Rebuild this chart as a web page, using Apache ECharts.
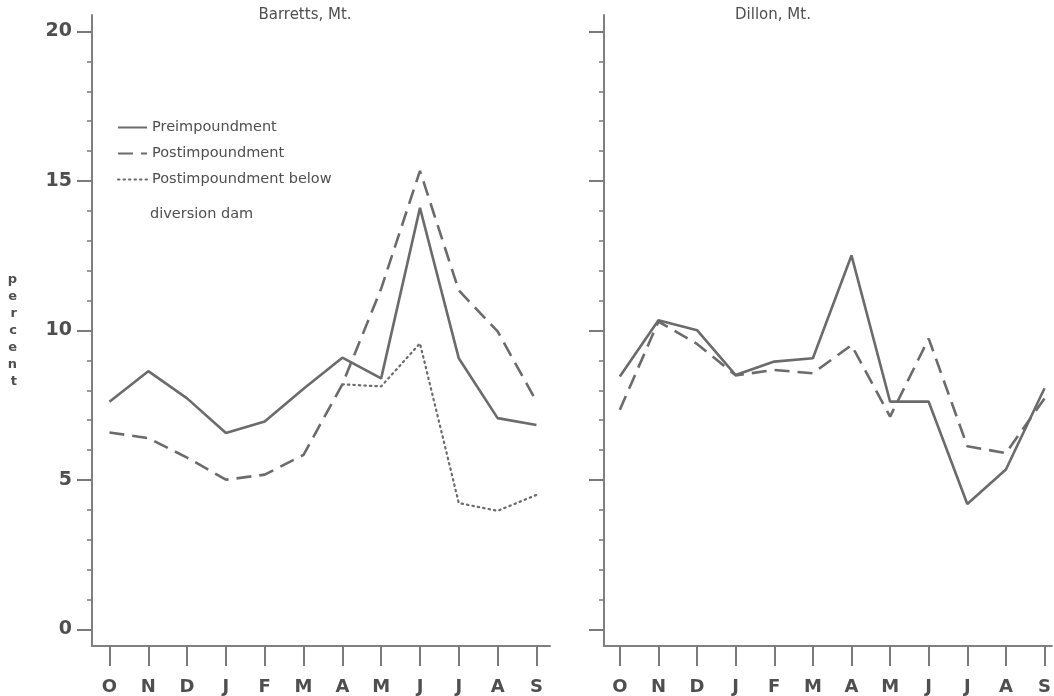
<!DOCTYPE html>
<html>
<head>
<meta charset="utf-8">
<title>Monthly flow distribution, Barretts and Dillon</title>
<script src="https://cdn.jsdelivr.net/npm/echarts@6/dist/echarts.min.js"></script>
<style>
  html, body { margin: 0; padding: 0; background: #ffffff; }
  #chart { width: 1054px; height: 696px; }
</style>
</head>
<body>
<div id="chart"></div>
<script>
// Water-year months, October through September
const months = ['O', 'N', 'D', 'J', 'F', 'M', 'A', 'M', 'J', 'J', 'A', 'S'];
const monthIdx = [0, 1, 2, 3, 4, 5, 6, 7, 8, 9, 10, 11];

// Percent of annual flow per month — Barretts, Mt.
const barrettsPre = [7.62, 8.64, 7.73, 6.57, 6.96, 8.05, 9.09, 8.4, 14.1, 9.07, 7.07, 6.84];
const barrettsPost = [6.59, 6.4, 5.75, 5.01, 5.18, 5.84, 8.2, 11.4, 15.34, 11.34, 9.97, 7.63];
const barrettsBelowDam = [null, null, null, null, null, null, 8.2, 8.13, 9.57, 4.23, 3.97, 4.5];

// Percent of annual flow per month — Dillon, Mt.
const dillonPre = [8.46, 10.34, 10.01, 8.51, 8.96, 9.07, 12.51, 7.62, 7.62, 4.2, 5.35, 8.07];
const dillonPost = [7.35, 10.3, 9.55, 8.5, 8.68, 8.57, 9.51, 7.12, 9.73, 6.13, 5.9, 7.73];

// Y-axis tick values
const majorTicks = [0, 5, 10, 15, 20];
const minorTicks = [1, 2, 3, 4, 6, 7, 8, 9, 11, 12, 13, 14, 16, 17, 18, 19];

const seriesNames = ['Preimpoundment', 'Postimpoundment', 'Postimpoundment below'];

const ink = '#4f4f4f';
const lineInk = '#6b6b6b';
const fontFamily = '"DejaVu Sans", "Liberation Sans", sans-serif';

const toPairs = arr => arr.map((v, i) => [i, v === null ? '-' : v]);

function xAxisFor(gridIndex, min, max) {
  return {
    gridIndex, type: 'value', min, max,
    axisLine: { show: true, onZero: false, lineStyle: { color: '#808080', width: 2 } },
    axisTick: { show: true, customValues: monthIdx, length: 20, lineStyle: { color: '#7a7a7a', width: 2 } },
    axisLabel: {
      customValues: monthIdx, formatter: v => months[v], margin: 32,
      fontSize: 18, fontWeight: 'bold', color: ink, fontFamily
    },
    splitLine: { show: false }
  };
}

function mainYAxis(gridIndex, withLabels) {
  return {
    gridIndex, type: 'value', min: -0.55, max: 20.55, position: 'left',
    axisLine: { show: true, onZero: false, lineStyle: { color: '#808080', width: 2 } },
    axisTick: { show: true, customValues: majorTicks, length: 15, lineStyle: { color: '#7a7a7a', width: 2 } },
    axisLabel: {
      show: withLabels, customValues: majorTicks, margin: 20,
      fontSize: 19, fontWeight: 'bold', color: ink, fontFamily
    },
    splitLine: { show: false },
    name: withLabels ? 'p\ne\nr\nc\ne\nn\nt' : '',
    nameLocation: 'middle', nameRotate: 0, nameGap: 75,
    nameTextStyle: { fontSize: 13, fontWeight: 'bold', lineHeight: 17, color: ink, fontFamily }
  };
}

function minorYAxis(gridIndex) {
  return {
    gridIndex, type: 'value', min: -0.55, max: 20.55, position: 'left',
    axisLine: { show: false, onZero: false },
    axisTick: { show: true, customValues: minorTicks, length: 5, lineStyle: { color: '#7a7a7a', width: 1.5 } },
    axisLabel: { show: false },
    splitLine: { show: false }
  };
}

function lineSeries(name, data, xi, yi, type) {
  return {
    name, type: 'line', xAxisIndex: xi, yAxisIndex: yi,
    data: toPairs(data), symbol: 'none', connectNulls: false, z: 3,
    lineStyle: {
      color: lineInk, width: type === 'dotted' ? 2.2 : 2.6,
      type: type === 'solid' ? 'solid' : (type === 'dashed' ? [15, 8] : [1.5, 4]),
      cap: type === 'dotted' ? 'round' : 'butt'
    },
    itemStyle: { color: lineInk }
  };
}

const chart = echarts.init(document.getElementById('chart'), null, { renderer: 'canvas' });

chart.setOption({
  backgroundColor: '#ffffff',
  animation: false,
  title: [
    { text: 'Barretts, Mt.', left: 300, top: 3, textAlign: 'center',
      textStyle: { fontSize: 15, fontWeight: 'normal', color: ink, fontFamily } },
    { text: 'Dillon, Mt.', left: 768, top: 3, textAlign: 'center',
      textStyle: { fontSize: 15, fontWeight: 'normal', color: ink, fontFamily } }
  ],
  grid: [
    { left: 92, top: 15, width: 458, height: 633 },
    { left: 604, top: 15, right: 0, height: 633 }
  ],
  xAxis: [
    xAxisFor(0, -0.45, 11.35),
    xAxisFor(1, -0.41, 11.19)
  ],
  yAxis: [
    mainYAxis(0, true),
    minorYAxis(0),
    mainYAxis(1, false),
    minorYAxis(1)
  ],
  legend: {
    data: seriesNames, orient: 'vertical', left: 112, top: 115,
    itemWidth: 29, itemHeight: 12, itemGap: 11,
    itemStyle: { opacity: 0 },
    textStyle: { fontSize: 14.5, color: ink, fontFamily, padding: [0, 0, 0, 0] },
    selectedMode: false
  },
  graphic: [
    { type: 'text', left: 150, top: 207,
      style: { text: 'diversion dam', fontSize: 14.5, fill: ink, fontFamily } }
  ],
  series: [
    lineSeries(seriesNames[0], barrettsPre, 0, 0, 'solid'),
    lineSeries(seriesNames[1], barrettsPost, 0, 0, 'dashed'),
    lineSeries(seriesNames[2], barrettsBelowDam, 0, 0, 'dotted'),
    lineSeries(seriesNames[0], dillonPre, 1, 2, 'solid'),
    lineSeries(seriesNames[1], dillonPost, 1, 2, 'dashed')
  ]
});
</script>
</body>
</html>
